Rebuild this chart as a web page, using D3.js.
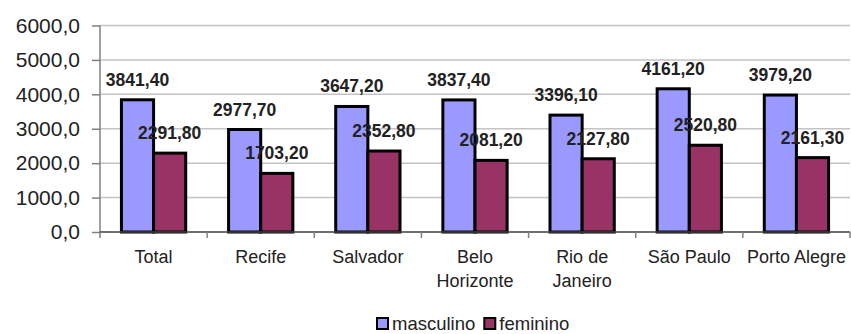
<!DOCTYPE html>
<html>
<head>
<meta charset="utf-8">
<script src="https://cdn.jsdelivr.net/npm/d3@7"></script>
<style>
  body { margin: 0; background: #fff; }
  svg text { font-family: "Liberation Sans", Arial, sans-serif; }
</style>
</head>
<body>
<div id="chart"></div>
<script>
// data
var categories = [["Total"], ["Recife"], ["Salvador"], ["Belo", "Horizonte"], ["Rio de", "Janeiro"], ["São Paulo"], ["Porto Alegre"]];
var series = ["masculino", "feminino"];
var masculino = [3841.40, 2977.70, 3647.20, 3837.40, 3396.10, 4161.20, 3979.20];
var feminino = [2291.80, 1703.20, 2352.80, 2081.20, 2127.80, 2520.80, 2161.30];
var yTicks = [0, 1000, 2000, 3000, 4000, 5000, 6000];
var colors = { masculino: "#9999ff", feminino: "#993366" };

var width = 851, height = 334;
var plotLeft = 100, plotRight = 850, plotTop = 25.5, plotBottom = 232;

var locale = d3.formatLocale({ decimal: ",", thousands: ".", grouping: [3], currency: ["", ""] });
var fmtTick = locale.format(".1f");
var fmtVal = locale.format(".2f");

var svg = d3.select("#chart").append("svg")
  .attr("width", width)
  .attr("height", height);

var keys = categories.map(function(c) { return c.join(" "); });
var x0 = d3.scaleBand().domain(keys).range([plotLeft, plotRight]).padding(0);
var x1 = d3.scaleBand().domain(series)
  .range([x0.bandwidth() * 0.2, x0.bandwidth() * 0.8]).padding(0);
var y = d3.scaleLinear().domain([0, 6000]).range([plotBottom, plotTop]);

// gridlines
svg.append("g").selectAll("line").data(yTicks.filter(function(d) { return d > 0; }))
  .enter().append("line")
  .attr("x1", plotLeft).attr("x2", plotRight)
  .attr("y1", function(d) { return y(d); }).attr("y2", function(d) { return y(d); })
  .attr("stroke", "#c4c4c4").attr("stroke-width", 1.5);

// y axis
var yAxis = d3.axisLeft(y).tickValues(yTicks).tickSize(8).tickPadding(12).tickFormat(fmtTick);
var gy = svg.append("g").attr("transform", "translate(" + plotLeft + ",0)").call(yAxis);
gy.select(".domain").attr("stroke", "#808080").attr("stroke-width", 1.5)
  .attr("d", "M0," + plotTop + "V" + (plotBottom + 6));
gy.selectAll(".tick line").attr("stroke", "#808080").attr("stroke-width", 1.5);
gy.selectAll(".tick text").attr("font-size", 21).attr("fill", "#222");
gy.attr("font-family", null).attr("font-size", null);

// bars
var rows = keys.map(function(k, i) {
  return { key: k, values: [
    { s: "masculino", v: masculino[i] },
    { s: "feminino", v: feminino[i] }
  ]};
});

var groups = svg.append("g").selectAll("g").data(rows).enter().append("g")
  .attr("transform", function(d) { return "translate(" + x0(d.key) + ",0)"; });

groups.selectAll("rect").data(function(d) { return d.values; }).enter().append("rect")
  .attr("x", function(d) { return x1(d.s); })
  .attr("width", x1.bandwidth())
  .attr("y", function(d) { return y(d.v); })
  .attr("height", function(d) { return y(0) - y(d.v); })
  .attr("fill", function(d) { return colors[d.s]; })
  .attr("stroke", "#000")
  .attr("stroke-width", 3);

// x axis line and ticks
svg.append("line")
  .attr("x1", plotLeft).attr("x2", plotRight)
  .attr("y1", plotBottom).attr("y2", plotBottom)
  .attr("stroke", "#404040").attr("stroke-width", 1.5);
svg.append("g").selectAll("line").data(keys.slice(1).concat(["end"]))
  .enter().append("line")
  .attr("x1", function(d) { return d === "end" ? plotRight : x0(d); })
  .attr("x2", function(d) { return d === "end" ? plotRight : x0(d); })
  .attr("y1", plotBottom).attr("y2", plotBottom + 6)
  .attr("stroke", "#808080").attr("stroke-width", 1.5);

// value labels
groups.selectAll("text.val").data(function(d) { return d.values; }).enter().append("text")
  .attr("class", "val")
  .attr("x", function(d) { return x1(d.s) + x1.bandwidth() / 2; })
  .attr("y", function(d) { return y(d.v) - 14; })
  .attr("text-anchor", "middle")
  .attr("font-size", 17.5)
  .attr("font-weight", "bold")
  .attr("fill", "#222")
  .text(function(d) { return fmtVal(d.v); });

// category labels
var cat = svg.append("g").selectAll("text").data(categories).enter().append("text")
  .attr("x", function(d, i) { return x0(keys[i]) + x0.bandwidth() / 2; })
  .attr("y", 263)
  .attr("text-anchor", "middle")
  .attr("font-size", 18)
  .attr("fill", "#222");
cat.selectAll("tspan").data(function(d) { return d; }).enter().append("tspan")
  .attr("x", function() { return d3.select(this.parentNode).attr("x"); })
  .attr("dy", function(d, i) { return i === 0 ? 0 : 24; })
  .text(function(d) { return d; });

// legend
var legend = svg.append("g").attr("transform", "translate(0,330)");
var lx = 377;
series.forEach(function(s) {
  legend.append("rect")
    .attr("x", lx).attr("y", -12)
    .attr("width", 11).attr("height", 11)
    .attr("fill", colors[s]).attr("stroke", "#000").attr("stroke-width", 2);
  var t = legend.append("text")
    .attr("x", lx + 15).attr("y", 0)
    .attr("font-size", 18.5).attr("fill", "#222")
    .text(s);
  lx += 15 + t.node().getComputedTextLength() + 9;
});
</script>
</body>
</html>
